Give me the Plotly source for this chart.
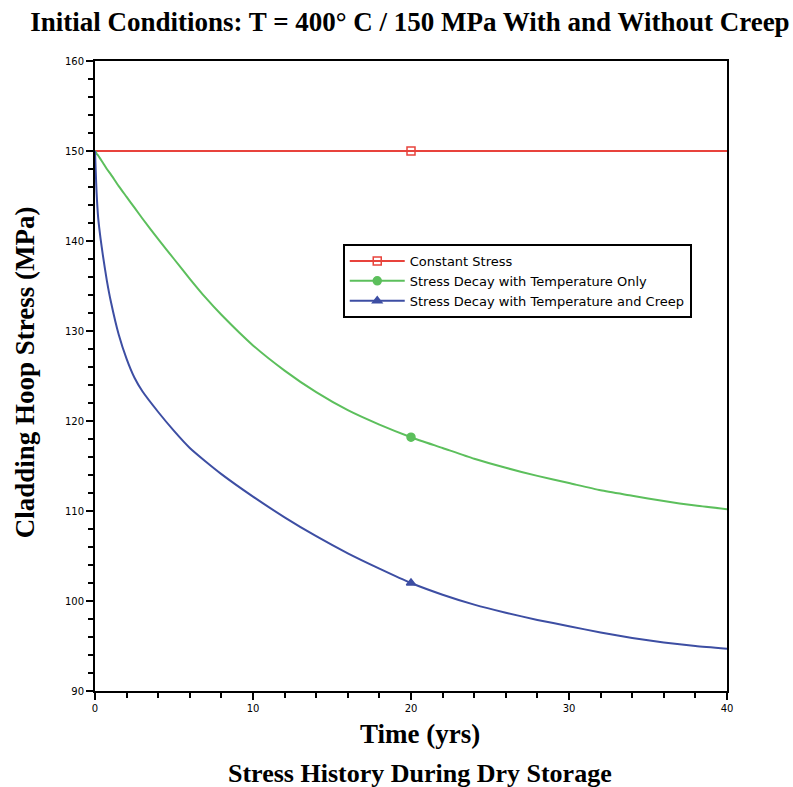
import plotly.graph_objects as go

# Time (yrs)
t = [0, 0.05, 0.1, 0.2, 0.35, 0.5, 0.75, 1, 1.5, 2, 2.5, 3, 4, 5, 6, 7, 8, 10, 12, 14, 16, 18, 20,
     22, 24, 26, 28, 30, 32, 34, 36, 38, 40]

constant = [150] * len(t)

temp_only = [150, 149.9, 149.7, 149.5, 149.1, 148.7, 148.0, 147.4, 146.1, 144.9, 143.7, 142.5,
             140.2, 138.0, 135.8, 133.7, 131.8, 128.4, 125.6, 123.2, 121.2, 119.6, 118.2,
             117.0, 115.8, 114.8, 113.9, 113.1, 112.3, 111.7, 111.1, 110.6, 110.2]

temp_creep = [150, 147.6, 145.4, 142.6, 140.3, 138.4, 135.6, 133.3, 129.6, 126.9, 124.8, 123.3,
              121.0, 118.9, 117.0, 115.5, 114.1, 111.6, 109.3, 107.2, 105.3, 103.6, 102.0,
              100.7, 99.6, 98.7, 97.9, 97.2, 96.5, 95.9, 95.4, 95.0, 94.7]

names = ["Constant Stress", "Stress Decay with Temperature Only",
         "Stress Decay with Temperature and Creep"]
colors = ["#e8433c", "#5cbf5c", "#3d4ea3"]
symbols = ["square-open", "circle", "triangle-up"]
series = [constant, temp_only, temp_creep]
marker_t = 20

fig = go.Figure()
mi = t.index(marker_t)
for name, col, sym, ys in zip(names, colors, symbols, series):
    fig.add_trace(go.Scatter(x=t, y=ys, mode="lines",
                             line=dict(color=col, width=2, shape="spline", smoothing=0.6),
                             showlegend=False, hoverinfo="skip"))
for name, col, sym, ys in zip(names, colors, symbols, series):
    fig.add_trace(go.Scatter(x=[t[mi]], y=[ys[mi]], mode="lines+markers", name=name,
                             line=dict(color=col, width=2),
                             marker=dict(symbol=sym, size=8, color=col,
                                         line=dict(color=col, width=1.5))))

axis_common = dict(showline=True, linecolor="black", linewidth=2, mirror=True,
                   ticks="outside", ticklen=7, tickwidth=2, tickcolor="black",
                   showgrid=False, zeroline=False,
                   tickfont=dict(family="DejaVu Sans", size=10, color="black"))

fig.update_xaxes(range=[0, 40], dtick=10, tick0=0,
                 minor=dict(dtick=2, ticks="outside", ticklen=5, tickwidth=1.5, tickcolor="black"),
                 **axis_common)
fig.update_yaxes(range=[90, 160], dtick=10, tick0=90,
                 minor=dict(dtick=2, ticks="outside", ticklen=5, tickwidth=1.5, tickcolor="black"),
                 **axis_common)

serif = "Liberation Serif"
fig.update_layout(
    width=793, height=787,
    margin=dict(l=95, r=66, t=61, b=96),
    paper_bgcolor="white", plot_bgcolor="white",
    title=dict(text="<b>Initial Conditions: T = 400° C / 150 MPa With and Without Creep</b>",
               font=dict(family=serif, size=27, color="black"),
               x=0.517, xanchor="center", xref="container",
               y=1 - 22 / 787, yanchor="middle", yref="container"),
    legend=dict(x=0.392, y=0.7095, xanchor="left", yanchor="top",
                bgcolor="white", bordercolor="black", borderwidth=2,
                font=dict(family="DejaVu Sans", size=13, color="black"),
                itemwidth=55, tracegroupgap=0),
    annotations=[
        dict(text="<b>Time (yrs)</b>", x=0.514, y=-43 / 630, xref="paper", yref="paper",
             showarrow=False, xanchor="center", yanchor="middle",
             font=dict(family=serif, size=27, color="black")),
        dict(text="<b>Stress History During Dry Storage</b>", x=0.514, y=-82 / 630,
             xref="paper", yref="paper", showarrow=False, xanchor="center", yanchor="middle",
             font=dict(family=serif, size=26, color="black")),
        dict(text="<b>Cladding Hoop Stress (MPa)</b>", x=-70 / 632, y=0.506,
             xref="paper", yref="paper", showarrow=False, textangle=-90,
             xanchor="center", yanchor="middle",
             font=dict(family=serif, size=27, color="black")),
    ],
)

fig.write_html("out.html")
